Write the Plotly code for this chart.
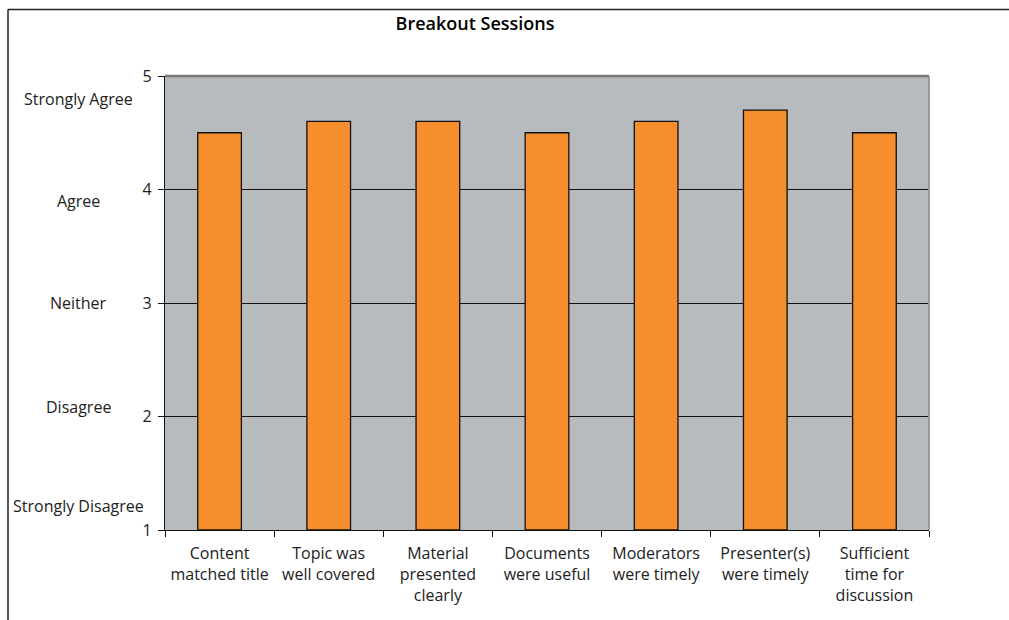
import plotly.graph_objects as go

# Survey items and mean ratings
categories = [
    "Content<br>matched title",
    "Topic was<br>well covered",
    "Material<br>presented<br>clearly",
    "Documents<br>were useful",
    "Moderators<br>were timely",
    "Presenter(s)<br>were timely",
    "Sufficient<br>time for<br>discussion",
]
ratings = [4.5, 4.6, 4.6, 4.5, 4.6, 4.7, 4.5]

# Rating scale labels shown beside the value axis
scale_labels = ["Strongly Agree", "Agree", "Neither", "Disagree", "Strongly Disagree"]
scale_positions = [4.8, 3.9, 3.0, 2.08, 1.21]
y_ticks = [1, 2, 3, 4, 5]

FONT = "'Open Sans', Lato, sans-serif"

fig = go.Figure()
# bars start at the axis floor (1), so heights are rating - 1
fig.add_trace(go.Bar(
    x=categories,
    y=[r - 1 for r in ratings],
    base=1,
    width=0.4,
    marker=dict(color="#F68E2D", line=dict(color="#111111", width=1.3)),
    showlegend=False,
    customdata=ratings,
    hovertemplate="%{x}: %{customdata}<extra></extra>",
))

fig.update_layout(
    width=1009,
    height=620,
    margin=dict(l=165, r=80, t=76, b=90),
    paper_bgcolor="white",
    plot_bgcolor="#B7BBBE",
    font=dict(family=FONT, size=16, color="#222222"),
    title=dict(
        text="Breakout Sessions",
        x=475 / 1009, xanchor="center",
        y=1 - 24 / 620, yanchor="middle",
        xref="container", yref="container",
        font=dict(family=FONT, size=18, color="#000000", weight=600),
    ),
)

fig.update_yaxes(
    range=[1, 5],
    tickvals=y_ticks,
    showgrid=True, gridcolor="#111111", gridwidth=1,
    showline=True, linecolor="#111111", linewidth=1.2,
    ticks="outside", ticklen=6, tickcolor="#111111",
    ticklabelstandoff=3,
    tickfont=dict(size=16, color="#222222"),
    zeroline=False,
)
fig.update_xaxes(
    showline=True, linecolor="#111111", linewidth=1.2,
    ticks="outside", ticklen=6, tickcolor="#111111",
    tickson="boundaries",
    ticklabelstandoff=9,
    tickfont=dict(size=16, color="#222222"),
    showgrid=False,
)

# Scale descriptions to the left of the value axis
for label, pos in zip(scale_labels, scale_positions):
    fig.add_annotation(
        text=label, x=(78 - 165) / 764, y=pos,
        xref="paper", yref="y",
        xanchor="center", yanchor="middle",
        showarrow=False, font=dict(size=16, color="#222222"),
    )

# Plot-area top and right edges
fig.add_shape(type="line", xref="paper", yref="paper", x0=0, x1=1, y0=1, y1=1,
              line=dict(color="#7A7A7A", width=2.5))
fig.add_shape(type="line", xref="paper", yref="paper", x0=1, x1=1, y0=0, y1=1,
              line=dict(color="#9A9A9A", width=2))

# Outer chart frame
top = (530 - 9.5) / 454
left = (8 - 165) / 764
fig.add_shape(type="line", xref="paper", yref="paper", x0=left, x1=1.2, y0=top, y1=top,
              line=dict(color="#222222", width=1.5))
fig.add_shape(type="line", xref="paper", yref="paper", x0=left, x1=left, y0=top, y1=-0.3,
              line=dict(color="#222222", width=1.5))

fig.write_html("out.html")
